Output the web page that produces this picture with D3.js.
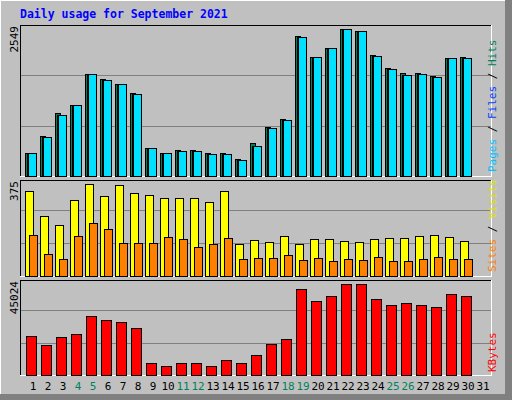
<!DOCTYPE html><html><head><script src="https://cdn.jsdelivr.net/npm/d3@7"></script>
<style>body{margin:0}svg{display:block}text{font-family:"DejaVu Sans Mono",monospace}</style></head><body>
<script>
const days=d3.range(1,32);
const weekend=[4,5,11,12,18,19,25,26];
const hits=[394,694,1092,1231,1769,1682,1595,1439,486,399,451,451,399,399,295,572,850,988,2428,2063,2220,2549,2514,2098,1873,1786,1786,1734,2046,2063];
const files=[394,677,1057,1231,1769,1665,1595,1422,486,399,434,434,382,382,278,520,833,971,2411,2063,2220,2549,2514,2081,1856,1751,1769,1717,2046,2046];
const pages=[394,677,1057,1231,1769,1665,1595,1422,486,399,434,434,382,382,278,520,833,971,2411,2063,2220,2549,2514,2081,1856,1751,1769,1717,2046,2046];
const visits=[346,245,207,309,375,325,370,338,329,317,317,317,301,346,129,146,138,162,129,150,150,142,138,150,154,154,162,167,158,142];
const sites=[167,89,68,162,215,191,134,134,134,158,150,117,129,154,68,72,72,85,64,72,60,68,64,76,60,60,68,76,68,68];
const kbytes=[19300,14850,18800,20300,29200,27200,26200,23250,5940,4450,5940,5940,4450,7420,5940,9900,15340,17800,42550,36600,39100,45024,45024,37600,34600,35600,34600,33650,40080,39100];
const maxHits=2549,maxVisits=375,maxKB=45024;

const svg=d3.select("body").append("svg").attr("width",512).attr("height",400);
svg.append("rect").attr("width",512).attr("height",400).attr("fill","#c0c0c0");
// outer frame
svg.append("rect").attr("x",505).attr("y",0).attr("width",7).attr("height",400).attr("fill","#808080");
svg.append("rect").attr("x",0).attr("y",394).attr("width",512).attr("height",6).attr("fill","#808080");
svg.append("line").attr("x1",0.5).attr("y1",0).attr("x2",0.5).attr("y2",394).attr("stroke","#fff").attr("stroke-width",1);
svg.append("line").attr("x1",0).attr("y1",0.5).attr("x2",505).attr("y2",0.5).attr("stroke","#fff");
svg.append("rect").attr("x",1).attr("y",1).attr("width",504).attr("height",393).attr("fill","none").attr("stroke","#000").attr("stroke-width",1).attr("transform","translate(0.5,0.5)").attr("stroke-opacity",0);
svg.append("text").attr("x",20).attr("y",18).attr("fill","#0000ff").attr("font-weight","bold").attr("font-size",11.5).text("Daily usage for September 2021");

const x=d3.scaleLinear().domain([1,2]).range([33,48]); // slot centers
const L=20,R=491;
function panel(y0,y1){
  svg.append("line").attr("x1",L).attr("x2",R).attr("y1",y0+.5).attr("y2",y0+.5).attr("stroke","#000");
  svg.append("line").attr("x1",L+.5).attr("x2",L+.5).attr("y1",y0).attr("y2",y1).attr("stroke","#000");
  svg.append("line").attr("x1",L).attr("x2",R).attr("y1",y1+.5).attr("y2",y1+.5).attr("stroke","#fff");
  svg.append("line").attr("x1",R+.5).attr("x2",R+.5).attr("y1",y0).attr("y2",y1+1).attr("stroke","#fff");
}
function grid(y,max){[max/3,max*2/3].forEach(v=>svg.append("line").attr("x1",L+1).attr("x2",R).attr("y1",Math.round(y(v))+.5).attr("y2",Math.round(y(v))+.5).attr("stroke","#808080"));}
function bars(data,y,off,w,color){
  svg.append("g").selectAll("rect").data(data).join("rect")
   .attr("x",(d,i)=>Math.round(x(i+1))+off+.5).attr("y",d=>Math.round(y(d))+.5)
   .attr("width",w).attr("height",d=>Math.round(y(0))-Math.round(y(d)))
   .attr("fill",color).attr("stroke","#000");
}
function ylab(txt,yTop){
  svg.append("text").attr("transform",`translate(18,${yTop}) rotate(-90)`).attr("text-anchor","end").attr("font-size",11).attr("fill","#000").text(txt);
}
function rlab(parts,yBottom){
  const t=svg.append("text").attr("transform",`translate(496,${yBottom}) rotate(-90)`).attr("font-size",11);
  parts.forEach(p=>t.append("tspan").attr("fill",p[1]).text(p[0]));
}
// top panel
const y1=d3.scaleLinear().domain([0,maxHits]).range([176,29]);
panel(25,176);grid(y1,maxHits*1.03);
bars(hits,y1,-8,5,"#00805c");
bars(files,y1,-6,5,"#0000ff");
bars(pages,y1,-5,8,"#00e0ff");
ylab(String(maxHits),26);
rlab([["Pages","#00c0ff"],[" / ","#000"],["Files","#0040ff"],[" / ","#000"],["Hits","#00805c"]],172);
// middle
const y2=d3.scaleLinear().domain([0,maxVisits]).range([276,184]);
panel(180,276);grid(y2,maxVisits*1.07);
bars(visits,y2,-8,8,"#ffff00");
bars(sites,y2,-4,8,"#ff8000");
ylab(String(maxVisits),181);
rlab([["Sites","#ff8000"],[" / ","#000"],["Visits","#e0e000"]],272);
// bottom
const y3=d3.scaleLinear().domain([0,maxKB]).range([375,284]);
panel(280,375);grid(y3,maxKB*1.07);
bars(kbytes,y3,-7,10,"#ff0000");
ylab(String(maxKB),281);
rlab([["KBytes","#ff0000"]],372);
// day labels
svg.append("g").selectAll("text").data(days).join("text")
 .attr("x",d=>x(d)).attr("y",390).attr("text-anchor","middle").attr("font-size",11)
 .attr("fill",d=>weekend.includes(d)?"#00805c":"#000").text(d=>d);
</script></body></html>
